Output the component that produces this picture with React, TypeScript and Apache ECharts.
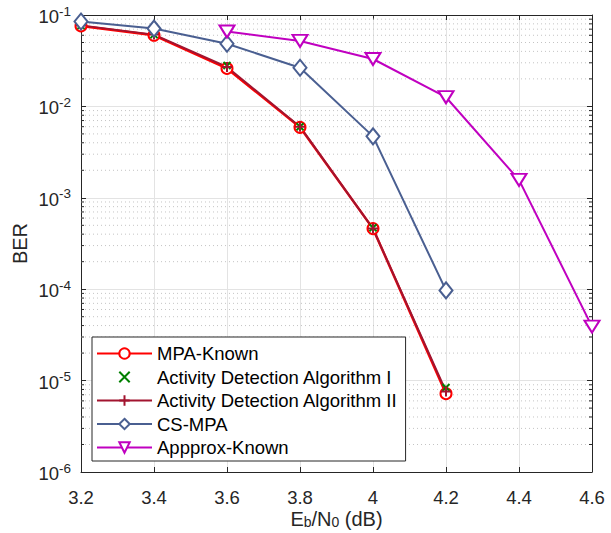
import React, { useEffect, useRef } from "react";
import * as echarts from "echarts";

const xValues = [3.2, 3.4, 3.6, 3.8, 4.0, 4.2, 4.4, 4.6];
const mpaKnown = [0.076, 0.06, 0.026, 0.0059, 4.6e-4, 7.2e-6];
const adAlgI = [0.077, 0.061, 0.028, 0.006, 4.7e-4, 8.4e-6];
const adAlgII = [0.077, 0.061, 0.027, 0.006, 4.6e-4, 7.6e-6];
const csMpa = [0.085, 0.071, 0.0485, 0.0265, 0.0047, 9.7e-5];
const approxX = [3.6, 3.8, 4.0, 4.2, 4.4, 4.6];
const approxKnown = [0.066, 0.052, 0.033, 0.0126, 1.57e-3, 3.9e-5];
const seriesNames = [
  "MPA-Known",
  "Activity Detection Algorithm I",
  "Activity Detection Algorithm II",
  "CS-MPA",
  "Appprox-Known",
];
const yMin = 1e-6;
const yMax = 1e-1;
const minorMultipliers = [2, 3, 4, 5, 6, 7, 8, 9];

const FONT = "'Liberation Sans', Arial, Helvetica, sans-serif";
const TXT = "#262626";
const FS = 18.5;

export default function App() {
  const ref = useRef<HTMLDivElement>(null);
  useEffect(() => {
    if (!ref.current) return;
    const chart = echarts.init(ref.current, undefined, { renderer: "svg" });
    const minorVals: number[][] = [];
    for (let e = -6; e < -1; e++) {
      for (const m of minorMultipliers) minorVals.push([3.2, m * Math.pow(10, e)]);
    }
    const pair = (xs: number[], ys: number[]) => ys.map((y, i) => [xs[i], y]);
    const lineBase = { type: "line", z: 5, lineStyle: { width: 2 }, symbolSize: 11 };
    const option: any = {
      animation: false,
      textStyle: { fontFamily: FONT },
      grid: { left: 81, right: 19, top: 15, bottom: 61, containLabel: false, outerBoundsMode: "none" },
      xAxis: [
        {
          type: "value",
          min: 3.2,
          max: 4.6,
          interval: 0.2,
          position: "bottom",
          axisLine: { show: true, lineStyle: { color: TXT, width: 1 } },
          axisTick: { show: true, inside: true, length: 5, lineStyle: { color: TXT } },
          axisLabel: {
            color: TXT,
            fontSize: FS,
            fontFamily: FONT,
            margin: 16,
            formatter: (v: number) => String(+v.toFixed(1)),
          },
          splitLine: { show: true, lineStyle: { color: "#e3e3e3", width: 1 } },
          name: "{m|E}{sub|b}{m|/N}{sub|0}{m| (dB)}",
          nameLocation: "middle",
          nameGap: 37,
          nameMoveOverlap: false,
          nameTextStyle: {
            color: TXT,
            fontSize: 20,
            fontFamily: FONT,
            verticalAlign: "top",
            rich: {
              m: { fontSize: 20, fontFamily: FONT, color: TXT, lineHeight: 20, verticalAlign: "top" },
              sub: { fontSize: 14, fontFamily: FONT, color: TXT, verticalAlign: "bottom", lineHeight: 12, padding: [19, 0, 0, 0] },
            },
          },
        },
        {
          type: "value",
          min: 3.2,
          max: 4.6,
          interval: 0.2,
          position: "top",
          axisLine: { show: true, lineStyle: { color: TXT, width: 1 } },
          axisTick: { show: true, inside: true, length: 5, lineStyle: { color: TXT } },
          axisLabel: { show: false },
          splitLine: { show: false },
        },
      ],
      yAxis: [
        {
          type: "log",
          logBase: 10,
          min: yMin,
          max: yMax,
          position: "left",
          axisLine: { show: true, lineStyle: { color: TXT, width: 1 } },
          axisTick: { show: true, inside: true, length: 5, lineStyle: { color: TXT } },
          axisLabel: {
            color: TXT,
            fontSize: FS,
            fontFamily: FONT,
            margin: 10,
            formatter: (v: number) => `{b|10}{s|${Math.round(Math.log10(v))}}`,
            rich: {
              b: { fontSize: FS, fontFamily: FONT, color: TXT, lineHeight: 22, verticalAlign: "bottom", padding: [8, 0, 0, 0] },
              s: { fontSize: 13.5, fontFamily: FONT, color: TXT, lineHeight: 14, verticalAlign: "top" },
            },
          },
          splitLine: { show: true, lineStyle: { color: "#e3e3e3", width: 1 } },
          name: "BER",
          nameLocation: "middle",
          nameGap: 51,
          nameMoveOverlap: false,
          nameRotate: 90,
          nameTextStyle: { color: TXT, fontSize: 20, fontFamily: FONT },
        },
        {
          type: "log",
          logBase: 10,
          min: yMin,
          max: yMax,
          position: "right",
          axisLine: { show: true, lineStyle: { color: TXT, width: 1 } },
          axisTick: { show: true, inside: true, length: 5, lineStyle: { color: TXT } },
          axisLabel: { show: false },
          splitLine: { show: false },
        },
      ],
      legend: {
        orient: "vertical",
        left: 92,
        top: 337,
        data: seriesNames,
        itemWidth: 55,
        itemHeight: 13,
        itemGap: 4.5,
        padding: [7, 8, 4, 4],
        backgroundColor: "#ffffff",
        borderColor: TXT,
        borderWidth: 1,
        borderRadius: 0,
        textStyle: { color: "#000", fontSize: FS, fontFamily: FONT },
      },
      series: [
        {
          type: "custom",
          name: "minor",
          z: 1,
          silent: true,
          data: minorVals,
          renderItem: (params: any, api: any) => {
            const cs = params.coordSys;
            const y = api.coord([3.2, api.value(1)])[1];
            const x0 = cs.x;
            const x1 = cs.x + cs.width;
            return {
              type: "group",
              children: [
                { type: "line", shape: { x1: x0, y1: y, x2: x1, y2: y }, style: { stroke: "#c4c4c4", lineWidth: 1, lineDash: [1, 3] } },
                { type: "line", shape: { x1: x0, y1: y, x2: x0 + 3, y2: y }, style: { stroke: TXT, lineWidth: 1 } },
                { type: "line", shape: { x1: x1 - 3, y1: y, x2: x1, y2: y }, style: { stroke: TXT, lineWidth: 1 } },
              ],
            };
          },
        },
        {
          ...lineBase,
          name: seriesNames[0],
          data: pair(xValues, mpaKnown),
          symbol: "emptyCircle",
          symbolSize: 11,
          color: "#ff0000",
          itemStyle: { color: "#ff0000", borderColor: "#ff0000", borderWidth: 2 },
          lineStyle: { width: 2.5, color: "#ff0000" },
        },
        {
          ...lineBase,
          name: seriesNames[1],
          data: pair(xValues, adAlgI),
          symbol: "path://M0 0L10 10M10 0L0 10",
          symbolSize: 7,
          color: "#008000",
          itemStyle: { color: "#008000", borderColor: "#008000", borderWidth: 2 },
          lineStyle: { width: 0, opacity: 0 },
        },
        {
          ...lineBase,
          name: seriesNames[2],
          data: pair(xValues, adAlgII),
          symbol: "path://M5 0L5 10M0 5L10 5",
          symbolSize: 10,
          color: "#a2142f",
          itemStyle: { color: "#a2142f", borderColor: "#a2142f", borderWidth: 2 },
          lineStyle: { width: 2, color: "#a2142f" },
        },
        {
          ...lineBase,
          name: seriesNames[3],
          data: pair(xValues, csMpa),
          symbol: "emptyDiamond",
          symbolSize: [13, 16],
          color: "#4a5f91",
          itemStyle: { color: "#4a5f91", borderColor: "#4a5f91", borderWidth: 2 },
          lineStyle: { width: 2, color: "#4a5f91" },
        },
        {
          ...lineBase,
          name: seriesNames[4],
          data: pair(approxX, approxKnown),
          symbol: "emptyTriangle",
          symbolRotate: 180,
          symbolSize: [15, 12],
          color: "#c000c0",
          itemStyle: { color: "#c000c0", borderColor: "#c000c0", borderWidth: 2 },
          lineStyle: { width: 2, color: "#c000c0" },
        },
      ],
    };
    chart.setOption(option);
    return () => chart.dispose();
  }, []);
  return <div ref={ref} style={{ width: 611, height: 533, position: "absolute", left: 0, top: 0 }} />;
}
